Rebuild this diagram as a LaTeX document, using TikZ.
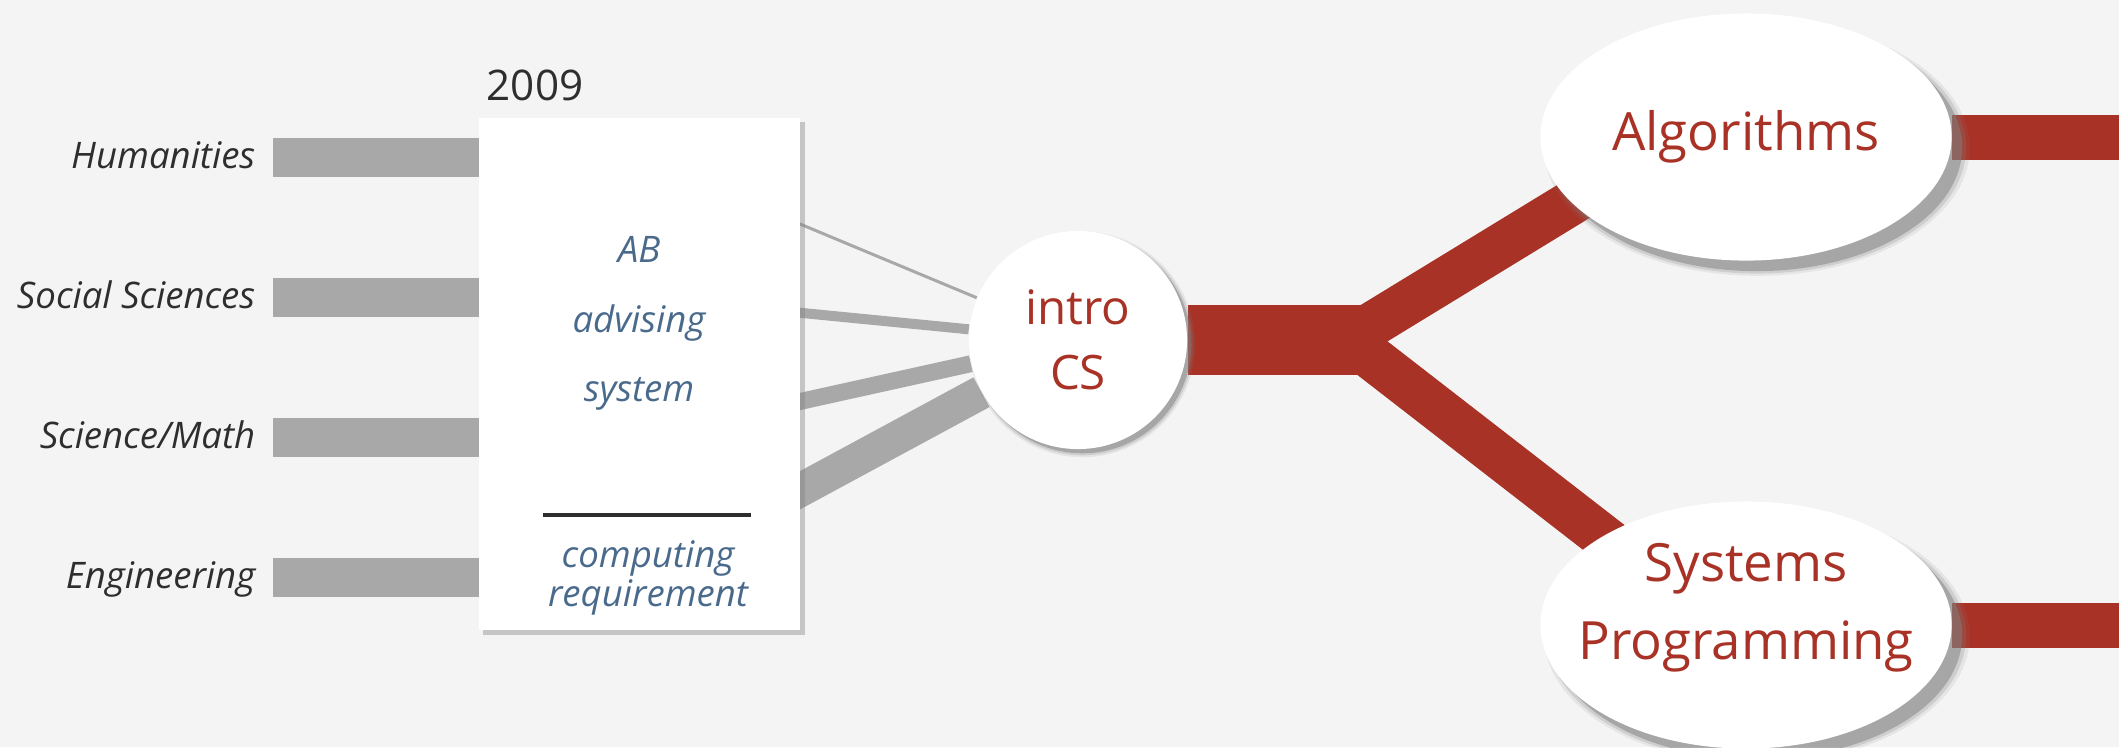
\documentclass[tikz,border=0pt]{standalone}
\usepackage{fontspec}
\setmainfont{Open Sans}
\usetikzlibrary{calc,shapes.geometric,shadows}
\definecolor{csred}{HTML}{A93226}
\definecolor{csgray}{HTML}{A8A8A8}
\definecolor{csblue}{HTML}{4A6A8C}
\definecolor{csink}{HTML}{2E2E2E}
\definecolor{csbg}{HTML}{F4F4F4}

\pgfdeclarelayer{paper}
\pgfdeclarelayer{wires}
\pgfsetlayers{paper,wires,main}

\tikzset{
  softshade/.style={
    drop shadow={shadow xshift=#1, shadow yshift=-#1, shadow scale=1.035, opacity=0.12},
    drop shadow={shadow xshift=#1, shadow yshift=-#1, shadow scale=1.018, opacity=0.22},
    drop shadow={shadow xshift=#1, shadow yshift=-#1, opacity=0.5}},
  field/.style={anchor=base east, inner sep=0pt, text=csink,
    font=\fontsize{10.4}{12}\selectfont\itshape},
  note/.style={anchor=base, inner sep=0pt, text=csblue, align=center,
    font=\fontsize{10.4}{9.6}\selectfont\itshape},
  inbar/.style={csgray, line width=11.1pt},
  feed/.style={csgray, line width=#1},
  flow/.style={csred, line width=#1},
  topic/.style={ellipse, fill=white, inner sep=0pt, text=csred,
    minimum width=4.11cm, minimum height=2.47cm,
    font=\fontsize{15}{22.2}\selectfont, softshade=3pt},
}

\begin{document}
\begin{tikzpicture}[x=0.01cm,y=-0.01cm]
  \begin{pgfonlayer}{paper}
    \fill[csbg] (0,0) rectangle (2119,747);
  \end{pgfonlayer}
  \useasboundingbox (0,0) rectangle (2119,747);

  % the 2009 box
  \node[fill=white, minimum width=3.21cm, minimum height=5.12cm, inner sep=0pt,
    drop shadow={shadow xshift=1.3pt, shadow yshift=-1.3pt, opacity=0.4}] (advbox) at (639.5,374) {};
  \node[anchor=base, inner sep=0pt, text=csink,
    font=\fontsize{12}{13}\selectfont] (year) at (535,100) {2009};
  \node[note] (ab) at (639,262) {AB};
  \node[note] (adv) at (639,332) {advising};
  \node[note] (sys) at (639,401) {system};
  \draw[csink, line width=1.1pt] (543,515) -- (751,515);
  \node[note, anchor=center] (req) at (648,578) {computing\\requirement};

  % intro course and the two follow-ons
  \node[circle, fill=white, minimum size=2.18cm, inner sep=0pt, text=csred,
    align=center, font=\fontsize{13.5}{18.4}\selectfont,
    softshade=1.2pt] (intro) at (1078,340) {intro\\CS};
  \node[topic] (alg) at (1746,137) {Algorithms};
  \node[topic] (sysprog) at (1746,625) {};
  \node[text=csred, align=center, inner sep=0pt,
    font=\fontsize{15}{22.2}\selectfont] (sysname) at (1746,608) {Systems\\Programming};

  \coordinate (rim) at (2119,0);
  \coordinate (fork) at (1380,340);
  \coordinate (algfoot) at (1340,344);
  \coordinate (sysfoot) at (1340,333);
  \coordinate (algin) at ($(alg)+(-126,36)$);
  \coordinate (sysin) at ($(sysprog)+(-126,-75)$);

  \begin{pgfonlayer}{wires}
    % student majors feeding the box, and the box feeding intro CS
    \foreach \nm/\txt/\yy/\w in {hum/Humanities/157/0.85pt,
        soc/Social Sciences/297/2.85pt,
        sci/{Science/Math}/437/4.8pt,
        eng/Engineering/577/9.6pt}{
      \coordinate (\nm y) at (0,\yy);
      \node[field] (\nm) at (256,\yy+11) {\txt};
      \draw[inbar] ([xshift=0.17cm]\nm.east |- \nm y) -- (advbox.center |- \nm y);
      \draw[feed=\w] (advbox.center |- \nm y) -- (intro);
    }
    \draw[flow=19.9pt] (intro) -- (fork);
    \draw[flow=12.8pt] (algfoot) -- (algin);
    \draw[flow=12.8pt] (sysfoot) -- (sysin);
    \draw[flow=12.8pt] (alg) -- (alg -| rim);
    \draw[flow=12.8pt] (sysprog) -- (sysprog -| rim);
  \end{pgfonlayer}
\end{tikzpicture}
\end{document}
